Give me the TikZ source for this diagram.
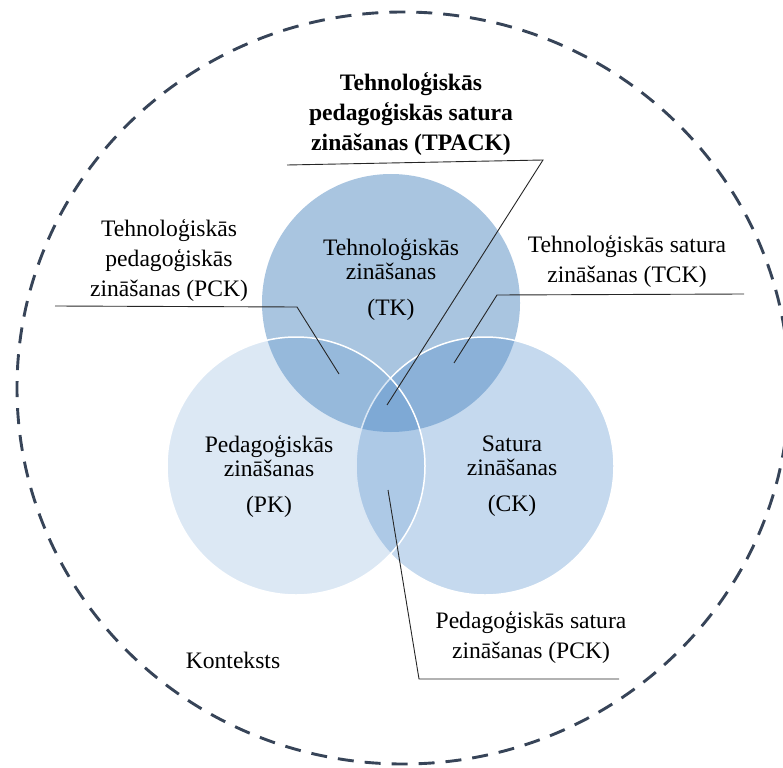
\documentclass[tikz,border=0pt]{standalone}
\usepackage{fontspec}
\setmainfont{Liberation Serif}
\usepackage{tikz}
\definecolor{tkblue}{RGB}{169,197,224}
\definecolor{baseblue}{RGB}{78,139,202}
\definecolor{ctxgrey}{RGB}{55,68,88}

\begin{document}
\begin{tikzpicture}[x=1pt,y=-1pt,
  txt/.style={align=center, inner sep=0pt, font=\fontsize{23.6}{30}\selectfont},
  intxt/.style={align=center, inner sep=0pt, font=\fontsize{23.6}{24.5}\selectfont},
  leader/.style={draw=black!85, line width=0.9pt}]
\useasboundingbox (0,0) rectangle (783,767);

% context
\draw[ctxgrey, line width=2.9pt, dash pattern=on 16pt off 11pt] (403,388) ellipse [x radius=386, y radius=376];

% circles
\fill[tkblue] (391,303) circle (129);
\filldraw[fill=baseblue, fill opacity=0.33, draw=white, line width=1.5pt] (485,466) circle (129);
\filldraw[fill=baseblue, fill opacity=0.2, draw=white, line width=1.5pt] (296,466) circle (129);

% nodes
\node[intxt] (TK) at (391,279) {Tehnoloģiskās\\zināšanas\\[11pt](TK)};
\node[intxt] (PK) at (269,476) {Pedagoģiskās\\zināšanas\\[11pt](PK)};
\node[intxt] (CK) at (512,476) {Satura\\zināšanas\\[11pt](CK)};
\node[txt, font=\fontsize{23.6}{30}\selectfont\bfseries] (TPACK) at (411,114) {Tehnoloģiskās\\pedagoģiskās satura\\zināšanas (TPACK)};
\node[txt] (TPK) at (169,260) {Tehnoloģiskās\\pedagoģiskās\\zināšanas (PCK)};
\node[txt] (TCK) at (627,261) {Tehnoloģiskās satura\\zināšanas (TCK)};
\node[txt] (PCK) at (531,637) {Pedagoģiskās satura\\zināšanas (PCK)};
\node[txt] (KON) at (233,660) {Konteksts};

% leader points
\coordinate (a1) at (287,165);
\coordinate (a2) at (543,160);
\coordinate (a3) at (387,405);
\coordinate (b1) at (55,306);
\coordinate (b2) at (297,307);
\coordinate (b3) at (339,374);
\coordinate (c1) at (744,294);
\coordinate (c2) at (497,295);
\coordinate (c3) at (454,363);
\coordinate (d1) at (619,679);
\coordinate (d2) at (419,679);
\coordinate (d3) at (388,490);

% leaders
\draw[leader] (a1)--(a2)--(a3);
\draw[leader] (b1)--(b2)--(b3);
\draw[leader] (c1)--(c2)--(c3);
\draw[leader] (d1)--(d2)--(d3);
\end{tikzpicture}
\end{document}
